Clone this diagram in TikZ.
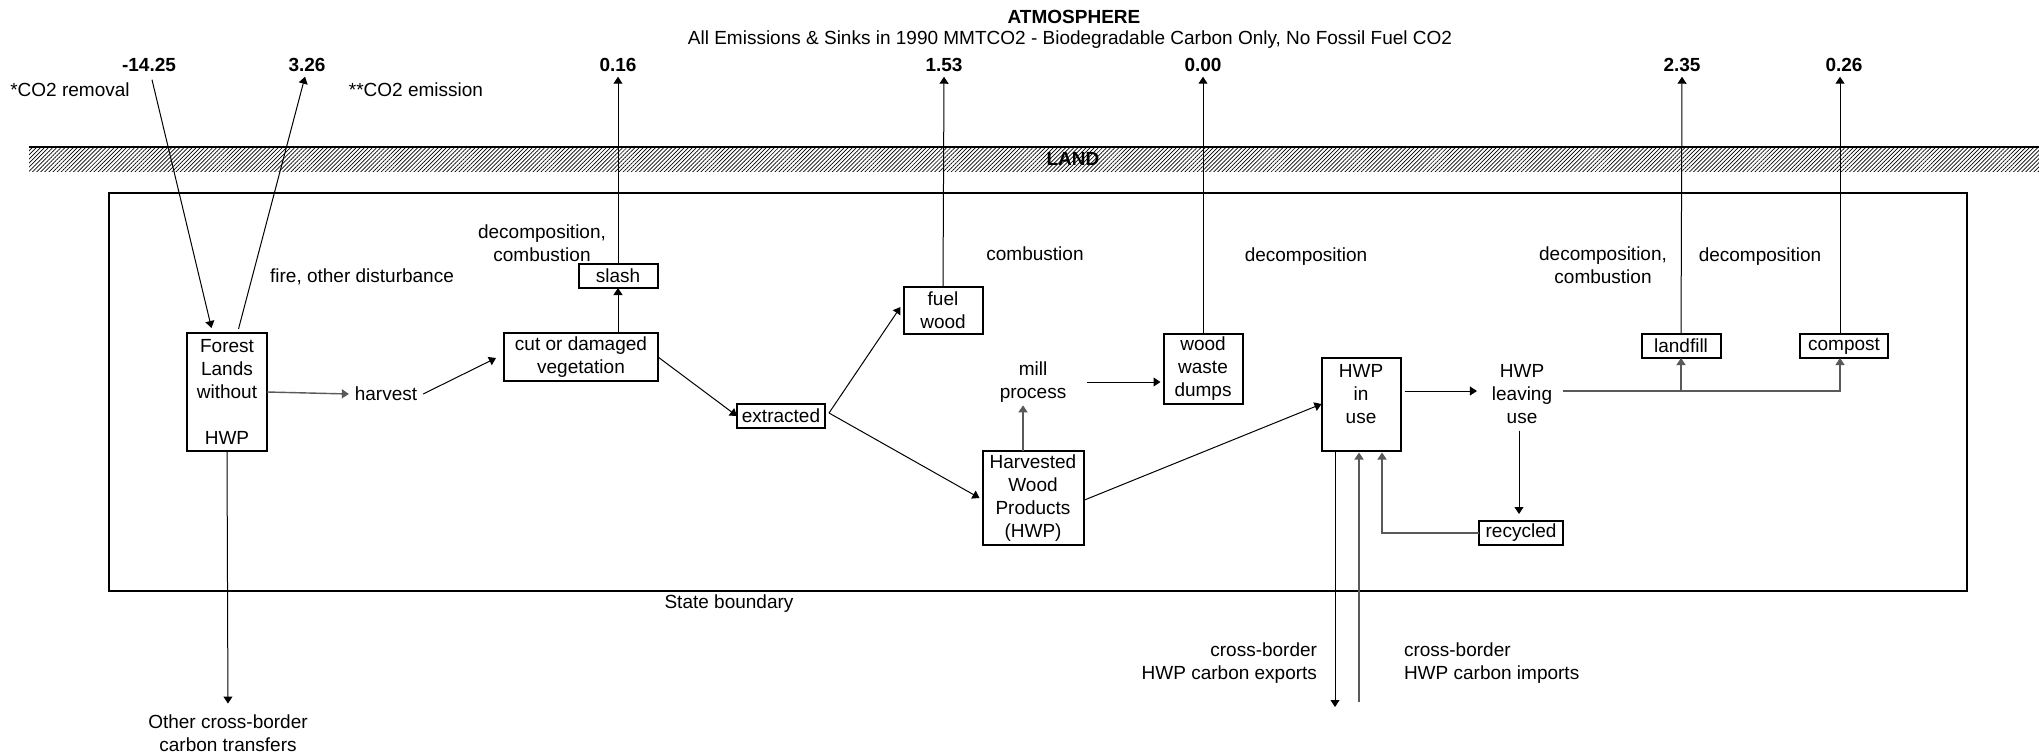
\documentclass[tikz,border=0pt]{standalone}
\usepackage{fontspec}
\setmainfont{Liberation Sans}
\usetikzlibrary{arrows.meta,calc,patterns.meta}
\begin{document}
\begin{tikzpicture}[x=0.5pt,y=-0.5pt,
  every node/.style={font=\fontsize{9.5}{11.5}\selectfont, inner sep=0pt, outer sep=0pt},
  box/.style={draw, line width=1pt, align=center},
  num/.style={font=\fontsize{9.5}{11.5}\selectfont\bfseries, inner sep=2.5pt},
  arr/.style={-{Triangle[length=3.5pt,width=4.5pt]}, line width=0.5pt},
  garr/.style={arr, draw=black!65, line width=0.7pt},
  gline/.style={draw=black!65, line width=0.7pt}]
\useasboundingbox (0,0) rectangle (2039,754);

% land band
\fill[pattern={Lines[angle=45,distance=1.45pt,line width=0.35pt]}] (29,147) rectangle (2039,172);
\draw[line width=1pt] (29,147) -- (2039,147);
\node[font=\fontsize{9.5}{11.5}\selectfont\bfseries] (land) at (1073,159) {LAND};

% state boundary
\draw[line width=1pt] (109,193) rectangle (1967,591);
\node (stateb) at (729,604) {State boundary};

% titles
\node[font=\fontsize{9.5}{11.5}\selectfont\bfseries] (atm) at (1074,17) {ATMOSPHERE};
\node (sub) at (1070,40) {All Emissions \& Sinks in 1990 MMTCO2 - Biodegradable Carbon Only, No Fossil Fuel CO2};

% numbers
\node[num] (n1) at (149,65) {-14.25};
\node[num] (n2) at (307,65) {3.26};
\node[num] (n3) at (618,65) {0.16};
\node[num] (n4) at (944,65) {1.53};
\node[num] (n5) at (1203,65) {0.00};
\node[num] (n6) at (1682,65) {2.35};
\node[num] (n7) at (1844,65) {0.26};

% boxes
\node[box,minimum width=40pt,minimum height=59pt] (forest) at (227,392) {Forest\\Lands\\without\\[11.5pt]HWP};
\node[box,minimum width=77pt,minimum height=24pt] (cut) at (581,357) {cut or damaged\\vegetation};
\node[box,minimum width=39.5pt,minimum height=12pt] (slash) at (618,276) {slash};
\node[box,minimum width=44pt,minimum height=12pt] (extr) at (781,416) {extracted};
\node[box,minimum width=39.5pt,minimum height=23.5pt] (fuel) at (943,310) {fuel\\wood};
\node[box,minimum width=39.5pt,minimum height=35pt] (waste) at (1203,369) {wood\\waste\\dumps};
\node[box,minimum width=50.5pt,minimum height=47pt] (hwp) at (1033,498) {Harvested\\Wood\\Products\\(HWP)};
\node[box,minimum width=39.5pt,minimum height=46.5pt] (inuse) at (1361,404) {HWP\\in\\use\\[-1.5pt]\mbox{}};
\node[box,minimum width=42pt,minimum height=12pt] (recyc) at (1521,533) {recycled};
\node[box,minimum width=39.5pt,minimum height=12pt] (landf) at (1681,346) {landfill};
\node[box,minimum width=44pt,minimum height=12pt] (comp) at (1844,346) {compost};

% labels
\node (co2r) at (70,90) {*CO2 removal};
\node (co2e) at (416,90) {**CO2 emission};
\node (fire) at (362,277) {fire, other disturbance};
\node[align=center] (dc1) at (542,243) {decomposition,\\combustion};
\node (comb) at (1035,254) {combustion};
\node (dec1) at (1306,257) {decomposition};
\node[align=center] (dc2) at (1603,265) {decomposition,\\combustion};
\node (dec2) at (1760,257) {decomposition};
\node[inner sep=3pt] (harv) at (386,394) {harvest};
\node[align=center] (mill) at (1033,382) {mill\\process};
\node[align=center] (leave) at (1522,394) {HWP\\leaving\\use};
\node[align=right,anchor=east] (exp) at (1317,663) {cross-border\\HWP carbon exports};
\node[align=left,anchor=west] (imp) at (1404,663) {cross-border\\HWP carbon imports};
\node[align=center] (other) at (228,733) {Other cross-border\\carbon transfers};

% coordinates
\coordinate (bus) at (1563,391);
\coordinate (expend) at (1335,707);
\coordinate (impst) at (1359,702);

% connectors
\draw[arr] ($(n1.south)+(3,3)$) -- ($(forest.north west)+(24.5,-5)$);
\draw[arr] ($(forest.north west)+(51.5,-4)$) -- ($(n2.south)+(-2,0)$);
\draw[arr] (slash.north) -- (n3.south);
\draw[arr] (cut.north -| slash.south) -- (slash.south);
\draw[garr] (forest.east) -- (harv.west);
\draw[arr] (harv.east) -- ($(cut.west)+(-8,1)$);
\draw[arr] (cut.east) -- (extr.west);
\draw[arr] ($(extr.east)+(4,-3)$) -- ($(fuel.west)+(-3,-3)$);
\draw[arr] ($(extr.east)+(4,-3)$) -- ($(hwp.west)+(-3,0)$);
\draw[arr] (fuel.north) -- (n4.south);
\draw[garr] ($(hwp.north)+(-10,0)$) -- ($(mill.south)+(-10,3)$);
\draw[arr] ($(mill.east)+(21,0)$) -- ($(waste.west)+(-3,13)$);
\draw[arr] (waste.north) -- (n5.south);
\draw[arr] ($(hwp.east)+(1,2)$) -- (inuse.west);
\draw[arr] ($(inuse.east)+(4,-13)$) -- ($(leave.west)+(-15,-3)$);
\draw[garr] (bus) -| ($(comp.south)+(-4,0)$);
\draw[garr] (landf.south |- bus) -- (landf.south);
\draw[arr] ($(leave.south)+(-3,7)$) -- ($(recyc.north)+(-2,-7)$);
\draw[garr] (recyc.west) -| ($(inuse.south)+(21,2)$);
\draw[arr] (inuse.south -| expend) -- (expend);
\draw[garr] (impst) -- ($(impst |- inuse.south)+(0,2)$);
\draw[arr, shorten >=5.5pt] (forest.south) -- (other.north);
\draw[arr] (landf.north) -- (n6.south);
\draw[arr] ($(comp.north)+(-4,0)$) -- ($(n7.south)+(-4,0)$);
\end{tikzpicture}
\end{document}
